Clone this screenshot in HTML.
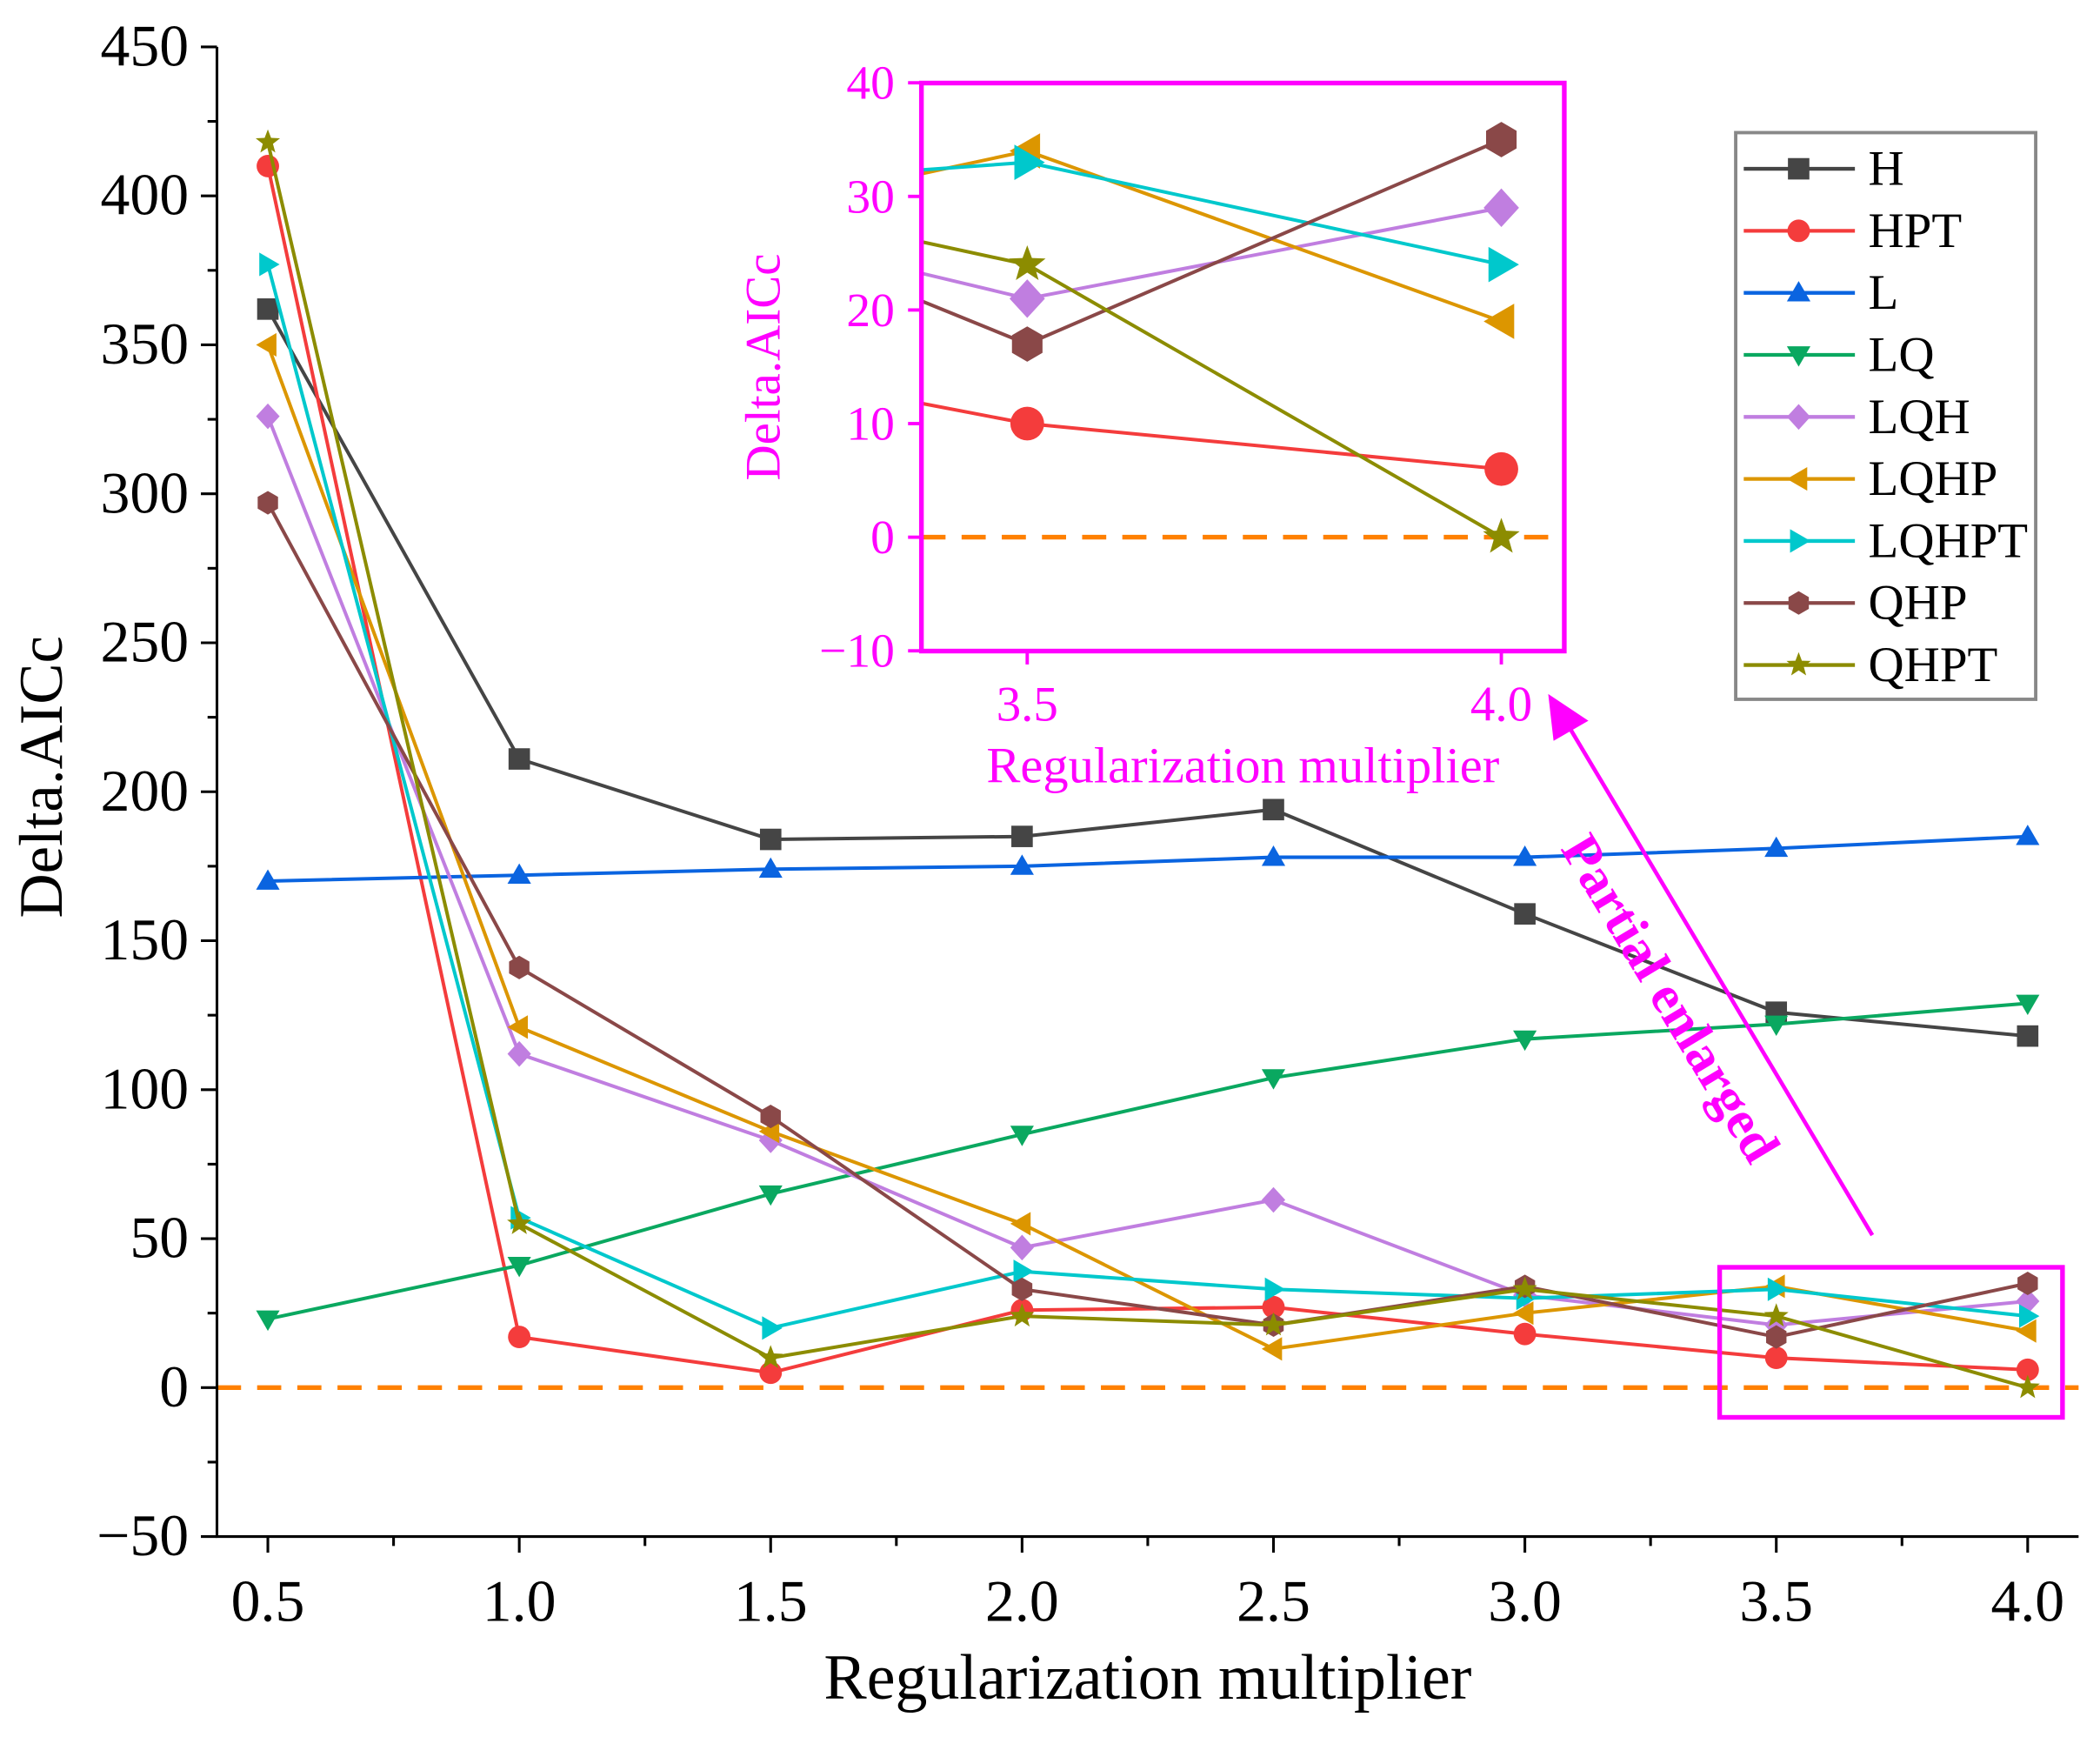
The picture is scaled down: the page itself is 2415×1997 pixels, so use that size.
<!DOCTYPE html>
<html><head><meta charset="utf-8"><style>
html,body{margin:0;padding:0;background:#fff;}
svg{display:block;font-family:"Liberation Serif",serif;}
</style></head><body>
<svg id="chart" width="2415" height="1997" viewBox="0 0 1568 1296.6" preserveAspectRatio="none" xmlns="http://www.w3.org/2000/svg">
<defs>
<clipPath id="mainClip"><rect x="162" y="35" width="1390" height="1112"/></clipPath>
<clipPath id="insetClip"><rect x="688" y="62" width="480" height="424"/></clipPath>
</defs>
<g id="main"></g>
<g id="inset"></g>
<g id="legend"></g>
<g id="annot"></g>
</svg>
<script>
const categories = [0.5, 1.0, 1.5, 2.0, 2.5, 3.0, 3.5, 4.0];
const seriesNames = ["H","HPT","L","LQ","LQH","LQHP","LQHPT","QHP","QHPT"];
const valsH = [362, 211, 184, 185, 194, 159, 126, 118];
const valsHPT = [410, 17, 5, 26, 27, 18, 10, 6];
const valsL = [170, 172, 174, 175, 178, 178, 181, 185];
const valsLQ = [23, 41, 65, 85, 104, 117, 122, 129];
const valsLQH = [326, 112, 83, 47, 63, 31, 21, 29];
const valsLQHP = [350, 121, 86, 55, 13, 25, 34, 19];
const valsLQHPT = [377, 57, 20, 39, 33, 30, 33, 24];
const valsQHP = [297, 141, 91, 33, 21, 34, 17, 35];
const valsQHPT = [418, 55, 10, 24, 21, 33, 24, 0];
const yTicks = [-50,0,50,100,150,200,250,300,350,400,450];
const xTickLabels = ["0.5","1.0","1.5","2.0","2.5","3.0","3.5","4.0"];
const insetYTicks = [-10,0,10,20,30,40];
const insetXTicks = [3.5, 4.0];
const insetXTickLabels = ["3.5","4.0"];

const allVals = [valsH,valsHPT,valsL,valsLQ,valsLQH,valsLQHP,valsLQHPT,valsQHP,valsQHPT];
const colors = ["#454545","#f43c3c","#0a64e0","#0aa860","#c07ee0","#dc9600","#00c8cc","#8a4848","#8c8c00"];
const markers = ["square","circle","up","down","diamond","left","right","hex","star"];

const NS="http://www.w3.org/2000/svg";
function mk(tag, attrs, parent, text){const e=document.createElementNS(NS,tag);for(const k in attrs)e.setAttribute(k,attrs[k]);if(text!==undefined)e.textContent=text;parent.appendChild(e);return e;}

const xS = v => 200 + (v-0.5)*(1514-200)/3.5;
const yS = v => 1147 - (v+50)*(1112/500);
const ixS = v => 767 + (v-3.5)*(1121-767)/0.5;
const iyS = v => 401 - v*8.48;

function marker(g, type, x, y, r, color){
  let e;
  if(type==="square") e=mk("rect",{x:x-r,y:y-r,width:2*r,height:2*r,fill:color},g);
  else if(type==="circle") e=mk("circle",{cx:x,cy:y,r:r*1.05,fill:color},g);
  else if(type==="hex"){let p=[];for(let i=0;i<6;i++){const a=Math.PI/6+i*Math.PI/3;p.push((x+r*1.1*Math.cos(a)).toFixed(1)+","+(y+r*1.1*Math.sin(a)).toFixed(1));}e=mk("polygon",{points:p.join(" "),fill:color},g);}
  else if(type==="up") e=mk("polygon",{points:`${x},${y-r*1.1} ${x-r*1.1},${y+r*0.8} ${x+r*1.1},${y+r*0.8}`,fill:color},g);
  else if(type==="down") e=mk("polygon",{points:`${x},${y+r*1.1} ${x-r*1.1},${y-r*0.8} ${x+r*1.1},${y-r*0.8}`,fill:color},g);
  else if(type==="left") e=mk("polygon",{points:`${x-r*1.1},${y} ${x+r*0.8},${y-r*1.1} ${x+r*0.8},${y+r*1.1}`,fill:color},g);
  else if(type==="right") e=mk("polygon",{points:`${x+r*1.1},${y} ${x-r*0.8},${y-r*1.1} ${x-r*0.8},${y+r*1.1}`,fill:color},g);
  else if(type==="diamond") e=mk("polygon",{points:`${x},${y-r*1.2} ${x+r*1.1},${y} ${x},${y+r*1.2} ${x-r*1.1},${y}`,fill:color},g);
  else { let p=[];for(let i=0;i<10;i++){const a=-Math.PI/2+i*Math.PI/5;const rr=i%2?r*0.5:r*1.2;p.push((x+rr*Math.cos(a)).toFixed(1)+","+(y+rr*Math.sin(a)).toFixed(1));}e=mk("polygon",{points:p.join(" "),fill:color},g);}
  return e;
}

const main=document.getElementById("main");
const z=mk("line",{x1:162,x2:1552,y1:yS(0),y2:yS(0),stroke:"#ff8000","stroke-width":3.5,"stroke-dasharray":"18,12"},main);


const plot=mk("g",{"clip-path":"url(#mainClip)"},main);
allVals.forEach((vals,si)=>{
  const g=mk("g",{},plot);
  
  
  const pts=vals.map((v,i)=>xS(categories[i]).toFixed(1)+","+yS(v).toFixed(1)).join(" ");
  mk("polyline",{points:pts,fill:"none",stroke:colors[si],"stroke-width":2.6},g);
  vals.forEach((v,i)=>{const m=marker(g,markers[si],xS(categories[i]),yS(v),8,colors[si]);
    
    });
});
const fr=mk("path",{d:"M162,35 V1147 H1552",fill:"none",stroke:"#000","stroke-width":2},main);

yTicks.forEach(t=>{
  const y=yS(t);
  mk("line",{x1:150,x2:162,y1:y,y2:y,stroke:"#000","stroke-width":2},main);
  const tx=mk("text",{x:141,y:y+14,"text-anchor":"end","font-size":44},main,t<0?"\u221250":String(t));
  
});
for(let t=-25;t<450;t+=50){mk("line",{x1:155,x2:162,y1:yS(t),y2:yS(t),stroke:"#000","stroke-width":2},main);}
categories.forEach((c,i)=>{
  const x=xS(c);
  mk("line",{x1:x,x2:x,y1:1147,y2:1159,stroke:"#000","stroke-width":2},main);
  const tx=mk("text",{x:x,y:1210,"text-anchor":"middle","font-size":44},main,xTickLabels[i]);
  
});
for(let i=0;i<7;i++){const x=xS(categories[i]+0.25);mk("line",{x1:x,x2:x,y1:1147,y2:1154,stroke:"#000","stroke-width":2},main);}
let t1=mk("text",{x:857,y:1268,"text-anchor":"middle","font-size":48},main,"Regularization multiplier");

let t2=mk("text",{x:46,y:580,"text-anchor":"middle","font-size":46,transform:"rotate(-90 46 580)"},main,"Delta.AICc");


const inset=document.getElementById("inset");

mk("rect",{x:688,y:62,width:480,height:424,fill:"#fff"},inset);
const iz=mk("line",{x1:688,x2:1168,y1:iyS(0),y2:iyS(0),stroke:"#ff8000","stroke-width":3.5,"stroke-dasharray":"18,12"},inset);

const ip=mk("g",{"clip-path":"url(#insetClip)"},inset);
allVals.forEach((vals,si)=>{
  if(si===2||si===3||si===0) return;
  const g=mk("g",{},ip);
  
  
  const pts=[5,6,7].map(i=>ixS(categories[i]).toFixed(1)+","+iyS(vals[i]).toFixed(1)).join(" ");
  mk("polyline",{points:pts,fill:"none",stroke:colors[si],"stroke-width":2.6},g);
  [6,7].forEach(i=>{const m=marker(g,markers[si],ixS(categories[i]),iyS(vals[i]),12,colors[si]);
    
    });
});
mk("rect",{x:688,y:62,width:480,height:424,fill:"none",stroke:"#ff00ff","stroke-width":3.5},inset);
insetYTicks.forEach(t=>{
  const y=iyS(t);
  mk("line",{x1:678,x2:688,y1:y,y2:y,stroke:"#ff00ff","stroke-width":2.5},inset);
  const tx=mk("text",{x:668,y:y+12,"text-anchor":"end","font-size":36,fill:"#ff00ff"},inset,t<0?"\u221210":String(t));
  
});
insetXTicks.forEach((t,i)=>{
  const x=ixS(t);
  mk("line",{x1:x,x2:x,y1:486,y2:496,stroke:"#ff00ff","stroke-width":2.5},inset);
  const tx=mk("text",{x:x,y:538,"text-anchor":"middle","font-size":37,fill:"#ff00ff"},inset,insetXTickLabels[i]);
  
});
let t3=mk("text",{x:928,y:584,"text-anchor":"middle","font-size":38,fill:"#ff00ff"},inset,"Regularization multiplier");

let t4=mk("text",{x:582,y:274,"text-anchor":"middle","font-size":37,fill:"#ff00ff",transform:"rotate(-90 582 274)"},inset,"Delta.AICc");


const lg=document.getElementById("legend");

mk("rect",{x:1296,y:99,width:224,height:423,fill:"#fff",stroke:"#888","stroke-width":2.5},lg);
seriesNames.forEach((n,i)=>{
  const y=126+i*46.3;
  const g=mk("g",{},lg);
  
  
  mk("line",{x1:1302,x2:1385,y1:y,y2:y,stroke:colors[i],"stroke-width":2.8},g);
  marker(g,markers[i],1343,y,8,colors[i]);
  mk("text",{x:1395,y:y+12,"font-size":37},g,n);
});

const an=document.getElementById("annot");
const box=mk("rect",{x:1284,y:946,width:256,height:112,fill:"none",stroke:"#ff00ff","stroke-width":3.5},an);

const ar=mk("line",{x1:1398,y1:922,x2:1170,y2:540,stroke:"#ff00ff","stroke-width":3},an);

const ah=mk("polygon",{points:"1156,518 1186,538 1160,553",fill:"#ff00ff"},an);

const pt=mk("text",{x:1236,y:752,"text-anchor":"middle","font-size":40,"font-weight":"bold",fill:"#ff00ff",transform:"rotate(59 1236 752)"},an,"Partial enlarged");

</script>
</body></html>
